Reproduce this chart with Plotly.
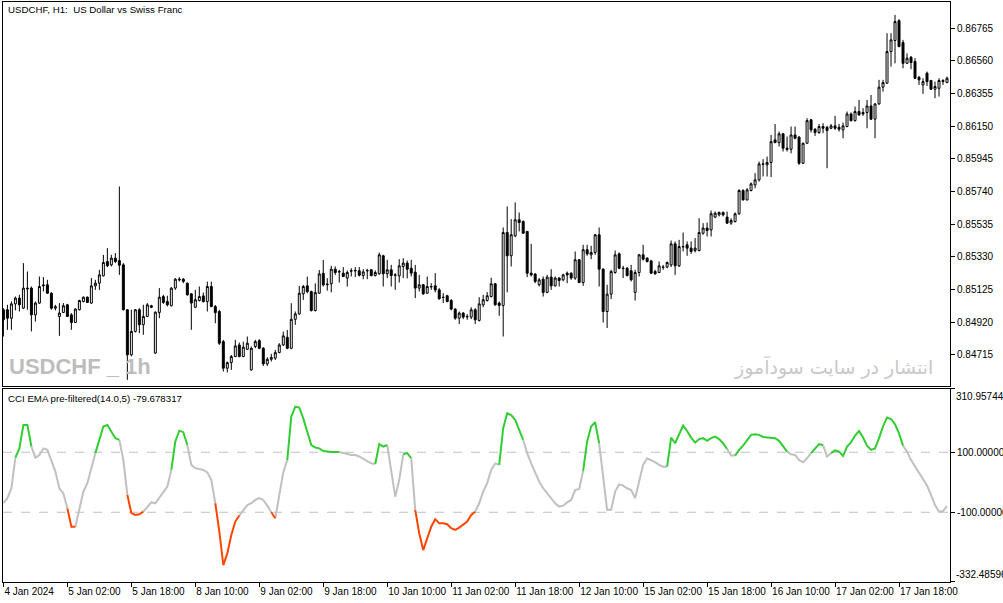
import plotly.graph_objects as go

# USDCHF H1 candles, 4 Jan 2024 10:00 -> 18 Jan 2024 06:00 (weekend hours skipped)
opens = [
    0.84997, 0.84997, 0.84944, 0.85034, 0.85070, 0.85007, 0.85133, 0.85133, 0.84965, 0.85039,
    0.85147, 0.85154, 0.85101, 0.85007, 0.84955, 0.84980, 0.85028, 0.84965, 0.84917, 0.84997,
    0.85049, 0.85076, 0.85039, 0.85147, 0.85164, 0.85210, 0.85300, 0.85279, 0.85321, 0.85306,
    0.85279, 0.84997, 0.84714, 0.84861, 0.84997, 0.84903, 0.84955, 0.85022, 0.84725, 0.84980,
    0.85080, 0.85049, 0.85022, 0.85133, 0.85189, 0.85189, 0.85164, 0.85097, 0.85013, 0.85055,
    0.85084, 0.85048, 0.85143, 0.85017, 0.84986, 0.84797, 0.84630, 0.84665, 0.84703, 0.84776,
    0.84703, 0.84749, 0.84619, 0.84766, 0.84803, 0.84755, 0.84657, 0.84686, 0.84693, 0.84728,
    0.84776, 0.84824, 0.84755, 0.84937, 0.84971, 0.85097, 0.85147, 0.85111, 0.84992, 0.85101,
    0.85226, 0.85159, 0.85160, 0.85252, 0.85237, 0.85227, 0.85196, 0.85242, 0.85244, 0.85242,
    0.85212, 0.85244, 0.85248, 0.85212, 0.85223, 0.85336, 0.85223, 0.85248, 0.85216, 0.85210,
    0.85269, 0.85290, 0.85258, 0.85233, 0.85133, 0.85154, 0.85101, 0.85143, 0.85147, 0.85122,
    0.85076, 0.85085, 0.85055, 0.85001, 0.84944, 0.84976, 0.84955, 0.84951, 0.84997, 0.84930,
    0.85028, 0.85055, 0.85080, 0.85160, 0.85039, 0.85024, 0.85482, 0.85336, 0.85461, 0.85562,
    0.85551, 0.85489, 0.85227, 0.85221, 0.85154, 0.85189, 0.85106, 0.85202, 0.85147, 0.85196,
    0.85185, 0.85227, 0.85227, 0.85196, 0.85311, 0.85168, 0.85374, 0.85342, 0.85357, 0.85468,
    0.85252, 0.84986, 0.85095, 0.85231, 0.85348, 0.85258, 0.85258, 0.85242, 0.85106, 0.85231,
    0.85342, 0.85321, 0.85304, 0.85237, 0.85231, 0.85265, 0.85265, 0.85279, 0.85411, 0.85273,
    0.85394, 0.85405, 0.85384, 0.85369, 0.85369, 0.85478, 0.85510, 0.85499, 0.85579, 0.85593,
    0.85608, 0.85579, 0.85541, 0.85551, 0.85600, 0.85746, 0.85687, 0.85746, 0.85781, 0.85813,
    0.85913, 0.85907, 0.85922, 0.86064, 0.86047, 0.86102, 0.86012, 0.86005, 0.86095, 0.86081,
    0.85917, 0.86043, 0.86190, 0.86131, 0.86110, 0.86148, 0.86143, 0.86137, 0.86152, 0.86143,
    0.86127, 0.86148, 0.86227, 0.86185, 0.86242, 0.86236, 0.86236, 0.86277, 0.86194, 0.86290,
    0.86395, 0.86420, 0.86619, 0.86688, 0.86813, 0.86675, 0.86545, 0.86583, 0.86556, 0.86457,
    0.86409, 0.86483, 0.86437, 0.86382, 0.86388, 0.86437, 0.86424,
]
highs = [
    0.85007, 0.85028, 0.85049, 0.85080, 0.85091, 0.85290, 0.85237, 0.85143, 0.85049, 0.85206,
    0.85202, 0.85185, 0.85106, 0.85028, 0.85039, 0.85039, 0.85034, 0.84976, 0.85007, 0.85060,
    0.85080, 0.85080, 0.85196, 0.85185, 0.85248, 0.85342, 0.85384, 0.85342, 0.85353, 0.85771,
    0.85290, 0.85001, 0.84997, 0.85001, 0.85007, 0.85028, 0.85039, 0.85028, 0.84986, 0.85133,
    0.85091, 0.85085, 0.85139, 0.85196, 0.85202, 0.85196, 0.85168, 0.85101, 0.85122, 0.85143,
    0.85105, 0.85174, 0.85174, 0.85027, 0.84996, 0.84808, 0.84672, 0.84713, 0.84808, 0.84791,
    0.84797, 0.84829, 0.84766, 0.84808, 0.84812, 0.84762, 0.84699, 0.84720, 0.84745, 0.84787,
    0.84860, 0.84870, 0.85038, 0.84986, 0.85147, 0.85153, 0.85205, 0.85117, 0.85163, 0.85247,
    0.85310, 0.85195, 0.85273, 0.85269, 0.85248, 0.85265, 0.85244, 0.85258, 0.85265, 0.85265,
    0.85252, 0.85254, 0.85252, 0.85244, 0.85357, 0.85342, 0.85311, 0.85279, 0.85227, 0.85315,
    0.85321, 0.85306, 0.85311, 0.85279, 0.85216, 0.85158, 0.85206, 0.85164, 0.85227, 0.85133,
    0.85101, 0.85091, 0.85064, 0.85007, 0.84986, 0.84982, 0.84970, 0.85013, 0.85007, 0.85076,
    0.85091, 0.85108, 0.85198, 0.85164, 0.85049, 0.85514, 0.85646, 0.85566, 0.85671, 0.85608,
    0.85558, 0.85489, 0.85411, 0.85227, 0.85196, 0.85206, 0.85216, 0.85252, 0.85206, 0.85202,
    0.85223, 0.85237, 0.85231, 0.85363, 0.85315, 0.85405, 0.85405, 0.85399, 0.85474, 0.85514,
    0.85258, 0.85154, 0.85248, 0.85369, 0.85357, 0.85273, 0.85265, 0.85279, 0.85248, 0.85348,
    0.85405, 0.85327, 0.85311, 0.85248, 0.85300, 0.85279, 0.85300, 0.85432, 0.85426, 0.85436,
    0.85482, 0.85426, 0.85426, 0.85447, 0.85572, 0.85541, 0.85545, 0.85620, 0.85614, 0.85614,
    0.85614, 0.85614, 0.85572, 0.85608, 0.85754, 0.85754, 0.85761, 0.85796, 0.85855, 0.85928,
    0.85943, 0.85959, 0.86095, 0.86164, 0.86116, 0.86106, 0.86085, 0.86148, 0.86148, 0.86089,
    0.86047, 0.86200, 0.86196, 0.86137, 0.86164, 0.86169, 0.86152, 0.86164, 0.86215, 0.86164,
    0.86173, 0.86242, 0.86236, 0.86273, 0.86315, 0.86263, 0.86315, 0.86346, 0.86294, 0.86441,
    0.86441, 0.86734, 0.86734, 0.86849, 0.86822, 0.86692, 0.86608, 0.86591, 0.86577, 0.86466,
    0.86451, 0.86493, 0.86441, 0.86430, 0.86451, 0.86445, 0.86462,
]
lows = [
    0.84829, 0.84871, 0.84871, 0.84993, 0.84986, 0.85001, 0.84997, 0.84861, 0.84923, 0.85034,
    0.85112, 0.85097, 0.84997, 0.84993, 0.84833, 0.84976, 0.84951, 0.84871, 0.84913, 0.84993,
    0.85043, 0.85039, 0.85034, 0.85122, 0.85122, 0.85206, 0.85265, 0.85269, 0.85290, 0.85216,
    0.84993, 0.84557, 0.84704, 0.84854, 0.84850, 0.84840, 0.84951, 0.85007, 0.84720, 0.84944,
    0.85034, 0.85018, 0.85018, 0.85122, 0.85175, 0.85164, 0.85085, 0.84871, 0.85007, 0.85049,
    0.85042, 0.84986, 0.85013, 0.84912, 0.84776, 0.84609, 0.84603, 0.84619, 0.84699, 0.84699,
    0.84699, 0.84745, 0.84615, 0.84755, 0.84749, 0.84644, 0.84644, 0.84672, 0.84682, 0.84724,
    0.84770, 0.84749, 0.84749, 0.84902, 0.84965, 0.85059, 0.85101, 0.84986, 0.84986, 0.85097,
    0.85143, 0.85117, 0.85106, 0.85216, 0.85168, 0.85202, 0.85143, 0.85206, 0.85202, 0.85206,
    0.85189, 0.85189, 0.85206, 0.85206, 0.85216, 0.85143, 0.85196, 0.85143, 0.85122, 0.85168,
    0.85196, 0.85194, 0.85206, 0.85070, 0.85112, 0.85091, 0.85097, 0.85122, 0.85106, 0.85060,
    0.85039, 0.85043, 0.84993, 0.84934, 0.84907, 0.84938, 0.84934, 0.84938, 0.84907, 0.84923,
    0.85013, 0.85049, 0.85074, 0.85022, 0.84959, 0.84829, 0.85106, 0.85269, 0.85453, 0.85489,
    0.85474, 0.85202, 0.85206, 0.85164, 0.85143, 0.85080, 0.85101, 0.85122, 0.85143, 0.85143,
    0.85175, 0.85164, 0.85185, 0.85185, 0.85164, 0.85147, 0.85336, 0.85315, 0.85342, 0.85143,
    0.84917, 0.84882, 0.85064, 0.85223, 0.85252, 0.85196, 0.85206, 0.85175, 0.85055, 0.85206,
    0.85306, 0.85294, 0.85221, 0.85216, 0.85227, 0.85248, 0.85258, 0.85265, 0.85216, 0.85265,
    0.85363, 0.85336, 0.85348, 0.85357, 0.85363, 0.85468, 0.85457, 0.85457, 0.85572, 0.85583,
    0.85583, 0.85537, 0.85530, 0.85545, 0.85593, 0.85683, 0.85683, 0.85740, 0.85760, 0.85802,
    0.85834, 0.85834, 0.85830, 0.86043, 0.86022, 0.85991, 0.85991, 0.85980, 0.86068, 0.85907,
    0.85913, 0.86039, 0.86110, 0.86089, 0.86102, 0.86106, 0.85886, 0.86131, 0.86127, 0.86116,
    0.86074, 0.86143, 0.86179, 0.86179, 0.86215, 0.86215, 0.86137, 0.86190, 0.86074, 0.86284,
    0.86367, 0.86416, 0.86524, 0.86545, 0.86646, 0.86514, 0.86541, 0.86508, 0.86445, 0.86409,
    0.86353, 0.86403, 0.86378, 0.86326, 0.86336, 0.86409, 0.86420,
]
closes = [
    0.84934, 0.84944, 0.85034, 0.85070, 0.85028, 0.85133, 0.85129, 0.84965, 0.85039, 0.85143,
    0.85152, 0.85101, 0.85007, 0.85016, 0.84976, 0.85022, 0.84955, 0.84917, 0.85001, 0.85055,
    0.85076, 0.85043, 0.85147, 0.85164, 0.85216, 0.85294, 0.85273, 0.85321, 0.85300, 0.85277,
    0.84997, 0.84714, 0.84861, 0.84997, 0.84903, 0.84955, 0.85028, 0.85013, 0.84982, 0.85076,
    0.85043, 0.85028, 0.85133, 0.85189, 0.85185, 0.85175, 0.85091, 0.85039, 0.85060, 0.85080,
    0.85048, 0.85143, 0.85017, 0.84979, 0.84787, 0.84630, 0.84665, 0.84703, 0.84770, 0.84703,
    0.84762, 0.84787, 0.84755, 0.84797, 0.84755, 0.84657, 0.84686, 0.84697, 0.84728, 0.84776,
    0.84833, 0.84755, 0.84937, 0.84971, 0.85101, 0.85143, 0.85111, 0.84992, 0.85105, 0.85222,
    0.85153, 0.85155, 0.85252, 0.85231, 0.85235, 0.85206, 0.85231, 0.85240, 0.85242, 0.85214,
    0.85235, 0.85242, 0.85212, 0.85231, 0.85342, 0.85223, 0.85248, 0.85212, 0.85214, 0.85273,
    0.85290, 0.85252, 0.85227, 0.85133, 0.85154, 0.85097, 0.85143, 0.85141, 0.85122, 0.85066,
    0.85074, 0.85049, 0.85001, 0.84944, 0.84976, 0.84951, 0.84953, 0.84997, 0.84934, 0.85034,
    0.85060, 0.85085, 0.85160, 0.85028, 0.85024, 0.85482, 0.85336, 0.85468, 0.85562, 0.85545,
    0.85478, 0.85227, 0.85216, 0.85175, 0.85185, 0.85106, 0.85202, 0.85147, 0.85196, 0.85181,
    0.85216, 0.85216, 0.85196, 0.85311, 0.85168, 0.85374, 0.85348, 0.85357, 0.85468, 0.85252,
    0.84986, 0.85095, 0.85237, 0.85342, 0.85258, 0.85256, 0.85212, 0.85185, 0.85231, 0.85342,
    0.85315, 0.85300, 0.85227, 0.85223, 0.85273, 0.85263, 0.85294, 0.85411, 0.85273, 0.85394,
    0.85392, 0.85384, 0.85363, 0.85384, 0.85482, 0.85510, 0.85495, 0.85600, 0.85604, 0.85608,
    0.85593, 0.85541, 0.85558, 0.85600, 0.85746, 0.85687, 0.85750, 0.85788, 0.85813, 0.85913,
    0.85911, 0.85922, 0.86053, 0.86047, 0.86102, 0.86012, 0.86005, 0.86095, 0.86074, 0.85917,
    0.86043, 0.86185, 0.86127, 0.86110, 0.86148, 0.86137, 0.86123, 0.86152, 0.86137, 0.86131,
    0.86152, 0.86227, 0.86185, 0.86242, 0.86221, 0.86227, 0.86277, 0.86194, 0.86290, 0.86395,
    0.86424, 0.86619, 0.86692, 0.86807, 0.86650, 0.86545, 0.86577, 0.86550, 0.86451, 0.86441,
    0.86430, 0.86430, 0.86382, 0.86399, 0.86437, 0.86430, 0.86451,
]

# CCI EMA pre-filtered(14.0,5), one value per candle
cci = [
    -70, -53, -20, 82, 113, 191, 191, 119, 82, 91,
    113, 108, 74, 36, -20, -37, -87, -148, -148, -87,
    -31, -3, 47, 97, 141, 186, 191, 169, 147, 141,
    74, -42, -103, -109, -107, -98, -81, -67, -70, -51,
    -31, -14, 41, 136, 172, 167, 124, 58, 47, 44,
    41, 33, 8, -70, -164, -276, -237, -176, -131, -111,
    -92, -76, -70, -59, -53, -59, -78, -100, -120, -42,
    33, 74, 219, 252, 249, 213, 169, 124, 116, 113,
    104, 102, 101, 101, 101, 97, 93, 91, 91, 86,
    78, 69, 63, 61, 127, 119, 124, 36, -48, 8,
    93, 97, 80, -92, -170, -226, -184, -148, -123, -137,
    -137, -140, -153, -159, -151, -142, -131, -109, -98, -70,
    -31, -3, 41, 63, 58, 180, 230, 224, 208, 174,
    141, 97, 63, 30, 2, -20, -37, -53, -70, -81,
    -78, -67, -59, -26, -22, 38, 136, 186, 200, 130,
    13, -92, -92, -31, -7, -11, -20, -26, -53, 8,
    58, 80, 74, 67, 58, 52, 52, 149, 130, 158,
    189, 171, 149, 132, 144, 147, 138, 147, 152, 144,
    130, 111, 89, 89, 108, 122, 141, 158, 160, 158,
    151, 149, 147, 147, 138, 119, 102, 93, 91, 74,
    67, 80, 97, 111, 127, 124, 86, 97, 106, 102,
    88, 119, 133, 156, 171, 149, 122, 108, 113, 147,
    186, 216, 211, 193, 163, 122, 102, 74, 52, 30,
    10, -11, -42, -76, -98, -96, -79.678317,
]
cci_last = -79.678317
# colour state changes of the CCI line: (first bar, state)
cci_runs = [
    (0, "n"), (3, "g"), (7, "n"), (16, "r"), (18, "n"), (23, "g"), (29, "n"),
    (31, "r"), (35, "n"), (42, "g"), (46, "n"), (53, "r"), (59, "n"), (67, "r"),
    (68, "n"), (71, "g"), (84, "n"), (93, "g"), (96, "n"), (100, "g"), (102, "n"),
    (103, "r"), (118, "n"), (124, "g"), (130, "n"), (145, "g"), (149, "n"),
    (166, "g"), (181, "n"), (183, "g"), (196, "n"), (202, "g"), (205, "n"),
    (207, "g"), (225, "n"),
]
cci_levels = [100, -100]
cci_range = [-332.48596, 310.957446]

price_ticks = [0.84715, 0.84920, 0.85125, 0.85330, 0.85535, 0.85740,
               0.85945, 0.86150, 0.86355, 0.86560, 0.86765]
time_labels = ["4 Jan 2024", "5 Jan 02:00", "5 Jan 18:00", "8 Jan 10:00",
               "9 Jan 02:00", "9 Jan 18:00", "10 Jan 10:00", "11 Jan 02:00",
               "11 Jan 18:00", "12 Jan 10:00", "15 Jan 02:00", "15 Jan 18:00",
               "16 Jan 10:00", "17 Jan 02:00", "17 Jan 18:00"]
label_step = 16

assert len(opens) == len(highs) == len(lows) == len(closes) == len(cci)

bars = list(range(len(closes)))
fnt = "Liberation Sans, Arial, sans-serif"

fig = go.Figure()
fig.add_trace(go.Candlestick(
    x=bars, open=opens, high=highs, low=lows, close=closes,
    increasing=dict(line=dict(color="black", width=1), fillcolor="white"),
    decreasing=dict(line=dict(color="black", width=1), fillcolor="black"),
    whiskerwidth=0, hoverinfo="skip", xaxis="x", yaxis="y",
))

line_colors = {"n": "#c0c0c0", "g": "#32cd32", "r": "#ff4500"}
parts = {k: ([], []) for k in line_colors}
for k, (start, state) in enumerate(cci_runs):
    end = cci_runs[k + 1][0] if k + 1 < len(cci_runs) else len(cci) - 1
    xs, ys = parts[state]
    xs.extend(bars[start:end + 1] + [None])
    ys.extend(cci[start:end + 1] + [None])
for state in ["n", "g", "r"]:
    fig.add_trace(go.Scatter(
        x=parts[state][0], y=parts[state][1], mode="lines",
        line=dict(color=line_colors[state], width=2),
        hoverinfo="skip", xaxis="x2", yaxis="y2",
    ))

for lv in cci_levels:
    fig.add_shape(type="line", xref="paper", x0=0, x1=1, yref="y2", y0=lv, y1=lv,
                  line=dict(color="#c0c0c0", width=1, dash="dash"), layer="below")

xr = [-0.1, len(bars) - 0.25]
axis_common = dict(showgrid=False, zeroline=False, showline=True, mirror=True,
                   linecolor="black", linewidth=1, automargin=False)

fig.update_layout(
    width=1003, height=603,
    margin=dict(l=3, r=53, t=2, b=21),
    paper_bgcolor="white", plot_bgcolor="white",
    showlegend=False,
    font=dict(family=fnt, size=10, color="black"),
    xaxis=dict(domain=[0, 1], anchor="y", range=xr, showticklabels=False, ticks="",
               rangeslider=dict(visible=False), **axis_common),
    yaxis=dict(domain=[0.3379, 1], anchor="x", range=[0.84518, 0.86930], side="right",
               tickvals=price_ticks, ticktext=[f"{v:.5f}" for v in price_ticks],
               ticks="outside", ticklen=4, tickcolor="black", **axis_common),
    xaxis2=dict(domain=[0, 1], anchor="y2", range=xr,
                tickvals=bars[::label_step], ticktext=time_labels, tickangle=0,
                ticks="outside", ticklen=4, tickcolor="black",
                ticklabelposition="outside right", **axis_common),
    yaxis2=dict(domain=[0, 0.3328], anchor="x2", range=cci_range, side="right",
                tickvals=[cci_range[1]] + cci_levels + [cci_range[0]],
                ticktext=[""] + [f"{v:.6f}" for v in cci_levels] + [""],
                ticks="outside", ticklen=4, tickcolor="black", **axis_common),
)

fig.add_annotation(text=f"{cci_range[1]:.6f}", xref="paper", x=1, xanchor="left", xshift=4,
                   yref="y2", y=cci_range[1], yanchor="top", showarrow=False,
                   font=dict(family=fnt, size=10))
fig.add_annotation(text=f"{cci_range[0]:.5f}", xref="paper", x=1, xanchor="left", xshift=4,
                   yref="y2", y=cci_range[0], yanchor="bottom", showarrow=False,
                   font=dict(family=fnt, size=10))

fig.add_annotation(text="USDCHF, H1:\u00a0 US Dollar vs Swiss Franc", xref="paper", yref="paper",
                   x=0.003, y=0.987, xanchor="left", yanchor="middle", showarrow=False,
                   font=dict(family=fnt, size=9.7))
fig.add_annotation(text=f"CCI EMA pre-filtered(14.0,5) {cci_last:.6f}", xref="paper", yref="paper",
                   x=0.003, y=0.316, xanchor="left", yanchor="middle", showarrow=False,
                   font=dict(family=fnt, size=9.7))
fig.add_annotation(text="<b>USDCHF _ 1h</b>", xref="paper", yref="paper",
                   x=0.004, y=0.371, xanchor="left", yanchor="middle", showarrow=False,
                   font=dict(family=fnt, size=22, color="#bdbdbd"))
fig.add_annotation(text="انتشار در سایت سودآموز", xref="paper", yref="paper",
                   x=0.8775, y=0.371, xanchor="center", yanchor="middle", showarrow=False,
                   font=dict(family="DejaVu Sans, Noto Sans, sans-serif", size=19, color="#c8c8c8"))

# the page's default 8px body margin would push the chart off its frame
fig.write_html("out.html", config={"displayModeBar": False},
               post_script="document.body.style.margin='0';")
